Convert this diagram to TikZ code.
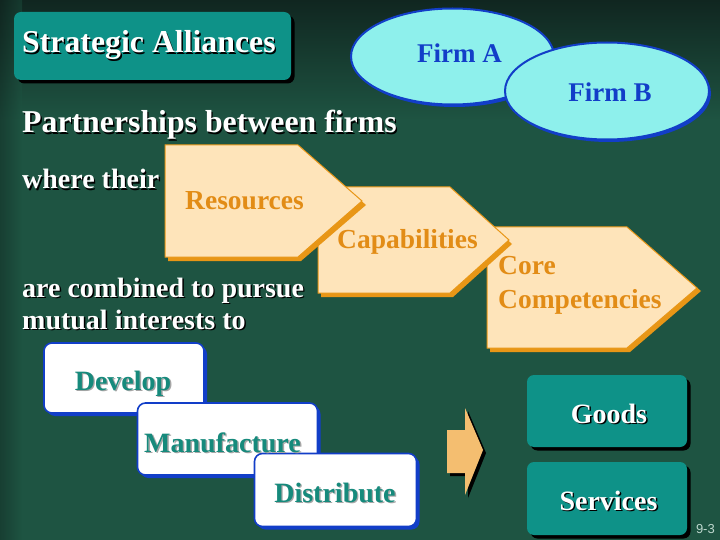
\documentclass[tikz,border=0pt]{standalone}
\usepackage{fontspec}
\setmainfont{Liberation Serif}
\newfontfamily\sansf{Liberation Sans}
\usetikzlibrary{shapes.geometric,shadows}
\definecolor{bgc}{RGB}{30,84,66}
\definecolor{bgdark}{RGB}{16,38,32}
\definecolor{tealc}{RGB}{14,146,136}
\definecolor{cyanc}{RGB}{142,240,236}
\definecolor{bluec}{RGB}{18,62,200}
\definecolor{peachc}{RGB}{254,228,186}
\definecolor{orangec}{RGB}{232,150,22}
\definecolor{otext}{RGB}{226,140,22}
\definecolor{arrowc}{RGB}{244,190,112}
\definecolor{ttext}{RGB}{22,138,124}
\definecolor{pagec}{RGB}{190,215,205}
\newcommand{\shtx}[2][black]{\rlap{\kern1.4pt\raisebox{-1.4pt}{\textcolor{#1}{#2}}}#2}
\tikzset{
  wtxt/.style={text=white, font=\bfseries\fontsize{28}{30}\selectfont, inner sep=0pt},
  bigtxt/.style={text=white, font=\bfseries\fontsize{31.8}{33}\selectfont, inner sep=0pt},
  otxt/.style={text=otext, font=\bfseries\fontsize{27.5}{30}\selectfont, inner sep=0pt},
  btxt/.style={text=bluec, font=\bfseries\fontsize{27}{30}\selectfont, inner sep=0pt},
  ttxt/.style={text=ttext, font=\bfseries\fontsize{28}{30}\selectfont, inner sep=0pt},
  tealbox/.style={rectangle, rounded corners=7pt, fill=tealc, inner sep=0pt,
    drop shadow={shadow xshift=3.5pt, shadow yshift=-3.5pt, fill=black, opacity=1}},
  whitebox/.style={rectangle, rounded corners=8pt, fill=white, draw=bluec, line width=1.6pt, inner sep=0pt,
    drop shadow={shadow xshift=3pt, shadow yshift=-3pt, fill=bluec, opacity=1}},
  firm/.style={ellipse, fill=cyanc, draw=bluec, line width=2pt, inner sep=0pt,
    drop shadow={shadow xshift=2pt, shadow yshift=-2.5pt, fill=bluec, opacity=1}},
  pentshadow/.style={fill=orangec},
  pent/.style={fill=peachc, draw=orangec, line width=1pt, line join=miter},
}
\begin{document}
\begin{tikzpicture}[x=1pt,y=-1pt]
\useasboundingbox (0,0) rectangle (720,540);
% background
\fill[bgc] (0,0) rectangle (720,540);
\shade[top color=bgdark, bottom color=bgc] (0,0) rectangle (720,120);
\shade[left color=bgdark, right color=bgc, opacity=0.45] (0,0) rectangle (22,540);

% title box
\node[tealbox, minimum width=277pt, minimum height=68pt] (titlebox) at (152.5,46) {};
\node[bigtxt, anchor=base west] (title) at (22,53) {\shtx{Strategic Alliances}};

% firms
\node[firm, minimum width=203pt, minimum height=96pt] (firmA) at (452.5,56.5) {};
\node[firm, minimum width=204pt, minimum height=97pt] (firmB) at (607,91) {};
\node[btxt, anchor=base] (firmAt) at (459.5,63) {Firm A};
\node[btxt, anchor=base] (firmBt) at (610,102) {Firm B};

% text lines
\node[bigtxt, anchor=base west] (partner) at (22,133) {\shtx{Partnerships between firms}};
\node[wtxt, anchor=base west] (where) at (22,189) {\shtx{where their}};
\node[wtxt, anchor=base west] (combined) at (22,297) {\shtx{are combined to pursue}};
\node[wtxt, anchor=base west] (mutual) at (22,329) {\shtx{mutual interests to}};

% pentagons: core, capabilities, resources
\fill[pentshadow] (490,231) -- (630,231) -- (701,291) -- (630,352) -- (490,352) -- cycle;
\path[pent] (487,227) -- (627,227) -- (697,288) -- (627,348) -- (487,348) -- cycle;
\fill[pentshadow] (321,191) -- (453,191) -- (512,244) -- (453,297) -- (321,297) -- cycle;
\path[pent] (318,187) -- (450,187) -- (509,240) -- (450,293) -- (318,293) -- cycle;
\fill[pentshadow] (168,149) -- (301,149) -- (366,205) -- (301,261) -- (168,261) -- cycle;
\path[pent] (165,145) -- (298,145) -- (362,201) -- (298,257) -- (165,257) -- cycle;
\node[otxt, anchor=base west] (res) at (185,210) {Resources};
\node[otxt, anchor=base west] (cap) at (337,248) {Capabilities};
\node[otxt, anchor=base west] (core) at (498,274) {Core};
\node[otxt, anchor=base west] (comp) at (498,308) {Competencies};

% white boxes
\node[whitebox, minimum width=160pt, minimum height=70pt] (devbox) at (124,378) {};
\node[whitebox, minimum width=180pt, minimum height=72pt] (manbox) at (227.5,439) {};
\node[whitebox, minimum width=162pt, minimum height=73pt] (disbox) at (335.5,490) {};
\node[ttxt, anchor=base] (dev) at (123,390) {\shtx[gray!70]{Develop}};
\node[ttxt, anchor=base] (man) at (222.5,452) {\shtx[gray!70]{Manufacture}};
\node[ttxt, anchor=base] (dis) at (335,502) {\shtx[gray!70]{Distribute}};

% block arrow
\fill[black] (450,433) -- (468,433) -- (468,411) -- (486,453) -- (468,498) -- (468,476) -- (450,476) -- cycle;
\fill[arrowc] (447,430) -- (465,430) -- (465,408) -- (483,450) -- (465,495) -- (465,473) -- (447,473) -- cycle;

% goods / services
\node[tealbox, minimum width=160pt, minimum height=72pt] (goodsbox) at (607,411) {};
\node[tealbox, minimum width=160pt, minimum height=73pt] (servbox) at (607,498.5) {};
\node[wtxt, anchor=base] (goods) at (609,423) {\shtx{Goods}};
\node[wtxt, anchor=base] (serv) at (608.5,510) {\shtx{Services}};

\node[text=pagec, font=\sansf\fontsize{13}{14}\selectfont, anchor=base east, inner sep=0pt] (page) at (715,533) {9-3};
\end{tikzpicture}
\end{document}
